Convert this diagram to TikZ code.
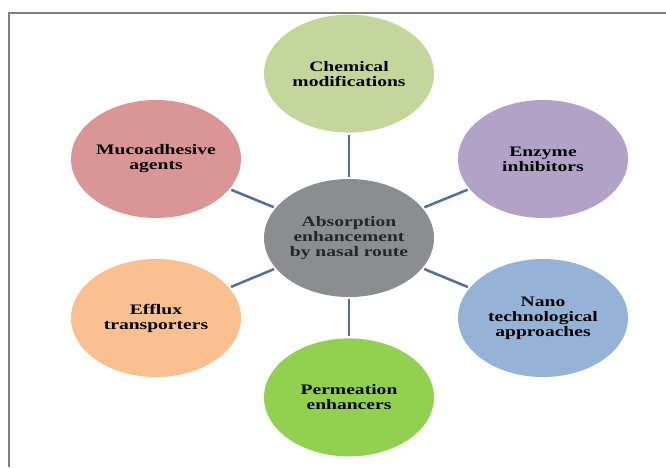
\documentclass[tikz,border=0pt]{standalone}
\usepackage{fontspec}
\usepackage{xcolor}
\usepackage{tikz}
\usetikzlibrary{shapes.geometric,positioning}
\newfontfamily\lblfont[FakeStretch=1.35]{Liberation Serif}
\definecolor{chemgreen}{HTML}{C3D69B}
\definecolor{enzpurple}{HTML}{B3A2C7}
\definecolor{mucored}{HTML}{D99694}
\definecolor{efforange}{HTML}{FAC090}
\definecolor{nanoblue}{HTML}{95B3D7}
\definecolor{permgreen}{HTML}{92D050}
\definecolor{hubgray}{HTML}{8C8D90}
\definecolor{spokeblue}{HTML}{4F6F9C}
\definecolor{framegray}{HTML}{808080}
\tikzset{
  bubble/.style={ellipse, minimum width=170pt, minimum height=118pt, inner sep=0pt, align=center,
    font=\lblfont\bfseries\fontsize{14.5}{15}\selectfont},
  spoke/.style={draw=spokeblue, line width=2.5pt, shorten <=2pt, shorten >=2pt},
  frameline/.style={draw=framegray, line width=1.8pt},
}

\begin{document}
\begin{tikzpicture}[x=1pt, y=-1pt]
  \useasboundingbox (0,0) rectangle (666,467);
  \draw[frameline] (666,13) -- (9,13) -- (9,467);
  \node[bubble, fill=hubgray, text=black!85] (hub) at (349,238) {Absorption\\enhancement\\by nasal route};
  \node[bubble, fill=chemgreen, above=46pt of hub] (chem) {Chemical\\modifications};
  \node[bubble, fill=permgreen, below=41pt of hub] (perm) {Permeation\\enhancers};
  \node[bubble, fill=enzpurple] (enz) at (543,159) {Enzyme\\inhibitors};
  \node[bubble, fill=nanoblue] (nano) at (543,318) {Nano\\technological\\approaches};
  \node[bubble, fill=mucored] (muco) at (156,159) {Mucoadhesive\\agents};
  \node[bubble, fill=efforange] (efflux) at (156,318) {Efflux\\transporters};
  \foreach \n in {chem,enz,nano,perm,efflux,muco}
    \draw[spoke] (hub) -- (\n);
\end{tikzpicture}
\end{document}
